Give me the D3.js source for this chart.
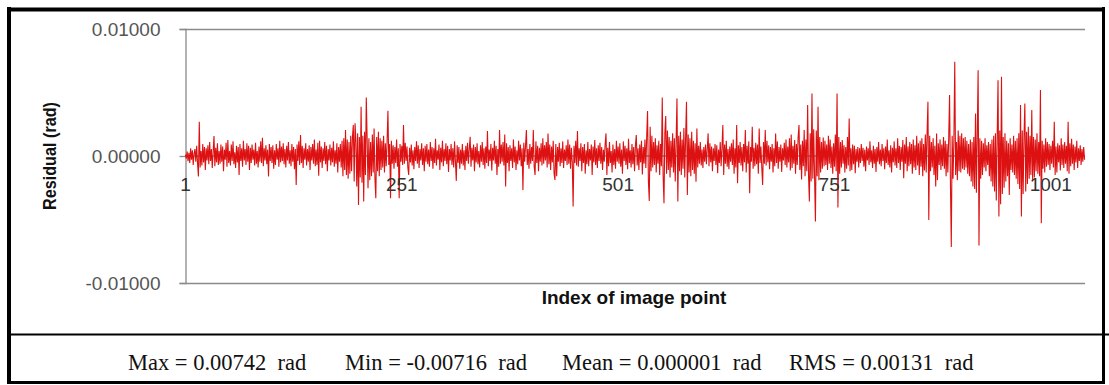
<!DOCTYPE html>
<html>
<head>
<meta charset="utf-8">
<script src="https://cdn.jsdelivr.net/npm/d3@7"></script>
<style>
  html, body { margin: 0; padding: 0; background: #fff; }
  svg { display: block; }
</style>
</head>
<body>
<svg id="chart" width="1109" height="385"></svg>
<script>
// Residual of each image point, in units of 1e-5 rad (index 1..1040)
const residual_1e5 = [
  10, -20, 35, -40, 25, -55, 60, -30, 45, -70, 20, 55, -45, 80, -60, -162, 270, -90, 40, -75,
  95, -50, 70, -110, 60, -35, 85, -65, 110, -40, 55, -95, 30, 157, -80, 65, -50, 100, -70, 40,
  -60, 90, -45, 75, -120, 50, -30, 105, -85, 126, -55, 40, -75, 90, -40, 115, -65, 30, -95, 80,
  -50, 70, -150, 95, -40, 60, -85, 120, -35, 55, -70, 100, -45, 80, -110, 65, -55, 90, -30, 50,
  -75, 105, -60, 40, -90, 75, -45, 115, -55, 144, -80, 60, -35, 85, -65, 50, -162, 95, -40, 70,
  -55, 85, -100, 45, -70, 95, -30, 60, -85, 120, -50, 75, -40, 100, -65, 55, -90, 80, -35, 110,
  -60, 45, -80, 95, -45, 70, -105, 55, -228, 90, -40, 115, -70, 165, -55, 80, -95, 60, -30, 100,
  -75, 55, -45, 85, -110, 70, -35, 95, -60, 130, -80, 50, -70, 105, -155, 120, -50, 75, -95, 60,
  -40, 110, -65, 80, -120, 55, -35, 90, -75, 65, -50, 115, -85, 45, -60, 100, -130, 70, -45, 95,
  -90, 120, -160, 140, -110, 204, -150, 130, -180, 110, -140, 160, -120, 150, 244, -200, 257, 120, -241, 180,
  -385, 150, -170, 388, -210, 160, -359, 190, -150, 461, 120, -254, 140, -190, 110, -160, 170, -130, 217, -180,
  -333, 150, -120, 190, -160, 140, -110, 120, -90, 160, -130, 100, -80, 110, 356, -70, 95, -333, 120, -60,
  85, -100, 70, -55, 130, -85, 60, -333, 95, -45, 80, -70, 244, -60, 105, -40, 75, -90, -150, 65,
  -50, 90, -75, 45, -105, 70, -40, 115, -60, 85, -95, 55, -35, 100, -70, 60, -120, 80, -45, 95,
  -65, 50, -85, 110, -40, 70, -100, 60, -55, 135, -75, 45, -30, 90, -110, 65, -50, 120, -80, 55,
  -40, 100, -65, 80, -125, 55, -35, 95, -70, 60, -90, 115, -45, -196, 85, -55, 70, -100, 50, -60,
  95, -75, 45, -110, 80, -40, 105, -60, 55, 152, -85, 65, -35, 90, -120, 70, -50, 100, -65, 40,
  -90, 85, -45, 110, -70, 60, -100, 75, -55, 196, -80, 50, -40, 95, -115, 65, -35, 120, -60, 80,
  -150, 55, -85, 204, -60, 90, -45, 110, -75, 170, -241, 100, -55, 70, -120, 85, -40, 60, -95, 130,
  -50, 75, -110, 45, -65, 120, -35, 90, -80, 60, -267, 105, -45, 80, 204, -70, 55, -100, 95, -60,
  70, -40, 204, -85, -150, 115, -55, 80, -120, 65, -45, 100, -75, 140, -60, 85, -35, 110, -90, 178,
  -65, 90, -110, 75, -50, 120, -140, -189, 95, -160, 70, -45, 105, -80, 60, -55, 115, -95, 50, -40,
  85, -70, 130, -60, 90, -100, 65, -45, -398, 80, -55, 120, -75, 196, -85, 60, -40, 100, -120, 70,
  -55, 95, -140, 45, -65, 110, -80, 55, -35, 90, -150, 75, -50, 125, -70, 60, -95, 85, -40, 105,
  -60, 70, -110, 50, -45, 95, 178, -150, 65, -80, 110, -55, 40, -130, 90, -70, 55, -100, 120, -45,
  75, -60, 100, -85, 50, -140, 115, -40, 80, -70, 60, -105, 135, -55, 45, -90, 95, -65, 70, -120,
  85, 165, -75, 60, -110, 90, -50, 120, -145, 70, -60, 130, -95, 150, 354, -200, -354, 230, -120, 160,
  -90, 110, -70, 140, -130, 85, -60, 120, -150, 95, -80, 461, -160, -372, 180, 314, -140, 200, -110, 150,
  -170, 120, -90, 180, -130, 140, -200, 110, 453, -359, 160, -120, 190, -150, 130, -100, 220, -170, 150, 427,
  -307, 170, -130, 140, -160, 190, -110, 120, -140, 100, -202, 217, -90, 80, -60, 110, -75, 50, -95, 70,
  -45, 90, -65, 55, 178, -80, 100, -50, 75, -120, 60, -40, 95, -70, 85, -135, 50, -55, 110, -80,
  65, 244, -150, 90, -60, 120, -85, 55, -105, 75, -45, 100, -70, 130, -140, 60, -90, 244, -215, 85,
  -55, 110, -75, 70, -120, 95, -50, 204, -130, 80, -60, 115, -293, 70, -45, 230, -100, 65, -80, 105,
  -65, 90, -140, 217, -55, 75, -90, -228, 110, -60, 204, -75, 120, -50, 85, -105, 70, -45, 95, -130,
  60, -80, 178, -55, 115, -100, 70, -45, 90, -125, 60, -35, 105, -70, 130, -90, 75, -50, 140, -115,
  170, -95, 80, -60, 125, -140, 95, -70, 150, 244, -110, 90, -185, 120, -80, 204, -160, 130, -120, 401,
  -150, -359, 180, -200, 493, -180, 210, -170, -516, 200, -160, 388, -190, 150, -130, 110, -100, 145, -80, 120,
  -70, 90, -110, 160, -60, 130, -95, 75, -140, 100, -85, 170, -120, 493, -406, 150, -140, 110, -90, 125,
  -60, 85, -130, 70, -100, 150, -75, 296, -120, 60, -110, 90, -65, 80, -135, 55, -45, 70, -90, 60,
  -55, 95, -40, 65, -85, 50, -120, 75, -35, 60, -70, 115, -50, 45, -95, 80, -60, 55, -125, 70,
  -45, 110, -65, 50, -80, 95, -40, 60, -105, 75, -55, 130, -70, 45, -90, 85, -130, 65, -50, 115,
  -75, 60, -95, 140, -55, 80, -110, 70, -45, 125, -176, 90, -60, 150, -120, 75, -80, 110, -65, 95,
  -140, 130, -90, 85, -110, 160, -75, 100, -150, 120, -85, 140, -160, 95, -115, 170, -130, 180, 427, -503,
  160, -120, 110, -90, 140, -150, 80, -240, 178, -190, 100, -70, 130, -110, 90, -80, 150, -100, 120, -160,
  95, -130, 140, 480, -210, -716, 160, -180, 120, 742, -150, 110, -190, 200, -120, 160, -130, 180, -100, 140,
  -110, 150, -90, 120, -140, 95, -160, 130, -200, 110, -240, 150, -260, 335, -290, 180, 676, -705, 140, -180,
  120, -150, 100, -90, 140, -120, 85, -70, 110, -160, 95, -200, 130, -240, 160, -280, 180, -350, 140, 597,
  -477, 200, -380, 624, -300, 150, -250, 180, -200, 120, -160, 100, -307, 140, -110, 90, -130, 160, -150, 120,
  -180, 140, -220, 180, -260, 401, -477, 200, -300, 150, 414, -280, 190, -220, 230, -180, 160, -150, 362, -200,
  150, -170, 130, -120, 180, -140, 110, -160, 519, -529, 120, -100, 90, -130, 140, -85, 110, -70, 95, -110,
  80, -60, 120, -90, 270, -150, 75, -130, 100, -50, 85, -115, 140, -70, 90, -95, 110, -60, 80, -120,
  270, -140, 100, -80, 135, -60, 90, -110, 75, -50, 120, -95, 60, -40, 85, -70, 55, -45, 70, -30
];

const indexTicks = [1, 251, 501, 751, 1001];
const residualTicks = [-0.01, 0, 0.01];
const stats = [
  "Max = 0.00742  rad",
  "Min = -0.00716  rad",
  "Mean = 0.000001  rad",
  "RMS = 0.00131  rad"
];

// values in rad
const residual = residual_1e5.map((v, i) => ({ index: i + 1, value: v * 1e-5 }));

const svg = d3.select("#chart");
const plot = { left: 185, right: 1085, top: 29, bottom: 283 };

const x = d3.scaleLinear()
  .domain([0.5, residual.length + 0.5])
  .range([plot.left, plot.right]);
const y = d3.scaleLinear()
  .domain([-0.01, 0.01])
  .range([plot.bottom, plot.top]);

// frame of the figure
const frame = svg.append("g").attr("stroke", "#000");
frame.append("line").attr("x1", 7).attr("x2", 1105).attr("y1", 9.5).attr("y2", 9.5).attr("stroke-width", 4);
frame.append("line").attr("x1", 9).attr("x2", 9).attr("y1", 7).attr("y2", 384).attr("stroke-width", 4);
frame.append("line").attr("x1", 1103.5).attr("x2", 1103.5).attr("y1", 7).attr("y2", 384).attr("stroke-width", 3);
frame.append("line").attr("x1", 7).attr("x2", 1105).attr("y1", 382.5).attr("y2", 382.5).attr("stroke-width", 3);
frame.append("line").attr("x1", 7).attr("x2", 1109).attr("y1", 334.5).attr("y2", 334.5).attr("stroke-width", 2);

// horizontal gridlines at ±0.01
svg.append("g")
  .selectAll("line")
  .data(residualTicks.filter(d => d !== 0))
  .join("line")
  .attr("x1", plot.left).attr("x2", plot.right)
  .attr("y1", d => Math.round(y(d)) + 0.5).attr("y2", d => Math.round(y(d)) + 0.5)
  .attr("stroke", "#8a8a8a").attr("stroke-width", 1.3);

// value axis
const yAxis = svg.append("g")
  .attr("transform", `translate(${plot.left + 0.5},0)`)
  .call(d3.axisLeft(y).tickValues(residualTicks).tickSize(6).tickPadding(19)
    .tickFormat(d => d3.format(".5f")(d).replace("−", "-")));
yAxis.select(".domain").attr("stroke", "#8a8a8a").attr("stroke-width", 1.3);
yAxis.selectAll(".tick line").attr("stroke", "#8a8a8a").attr("stroke-width", 1.3);
yAxis.selectAll(".tick text")
  .attr("fill", "#555")
  .style("font-family", "'Liberation Sans', Arial, sans-serif")
  .style("font-size", "19px");

// category axis at zero
svg.append("line")
  .attr("x1", plot.left).attr("x2", plot.right)
  .attr("y1", y(0)).attr("y2", y(0))
  .attr("stroke", "#8a8a8a").attr("stroke-width", 1.3);

// residual trace
const line = d3.line()
  .x(d => x(d.index))
  .y(d => y(d.value));
svg.append("path")
  .datum(residual)
  .attr("d", line)
  .attr("fill", "none")
  .attr("stroke", "#dd1111")
  .attr("stroke-width", 1.1)
  .attr("stroke-linejoin", "miter");

// index labels under the zero line
svg.append("g")
  .selectAll("text")
  .data(indexTicks)
  .join("text")
  .attr("x", d => x(d))
  .attr("y", y(0) + 35)
  .attr("text-anchor", "middle")
  .attr("fill", "#333")
  .style("font-family", "'Liberation Sans', Arial, sans-serif")
  .style("font-size", "19px")
  .text(d => d);

// axis titles
svg.append("text")
  .attr("transform", `translate(56,156) rotate(-90)`)
  .attr("text-anchor", "middle")
  .attr("textLength", 108)
  .attr("lengthAdjust", "spacingAndGlyphs")
  .style("font-family", "'Liberation Sans Narrow', 'Liberation Sans', Arial, sans-serif")
  .style("font-weight", "bold")
  .style("font-size", "18px")
  .attr("fill", "#111")
  .text("Residual (rad)");

svg.append("text")
  .attr("x", 634)
  .attr("y", 304)
  .attr("text-anchor", "middle")
  .style("font-family", "'Liberation Sans', Arial, sans-serif")
  .style("font-weight", "bold")
  .style("font-size", "19px")
  .attr("fill", "#111")
  .text("Index of image point");

// summary statistics
const statX = [128, 345, 562, 789];
svg.append("g")
  .selectAll("text")
  .data(stats)
  .join("text")
  .attr("x", (d, i) => statX[i])
  .attr("y", 370)
  .attr("xml:space", "preserve")
  .style("white-space", "pre")
  .style("font-family", "'Liberation Serif', 'Times New Roman', serif")
  .style("font-size", "22.5px")
  .attr("fill", "#111")
  .text(d => d);
</script>
</body>
</html>
